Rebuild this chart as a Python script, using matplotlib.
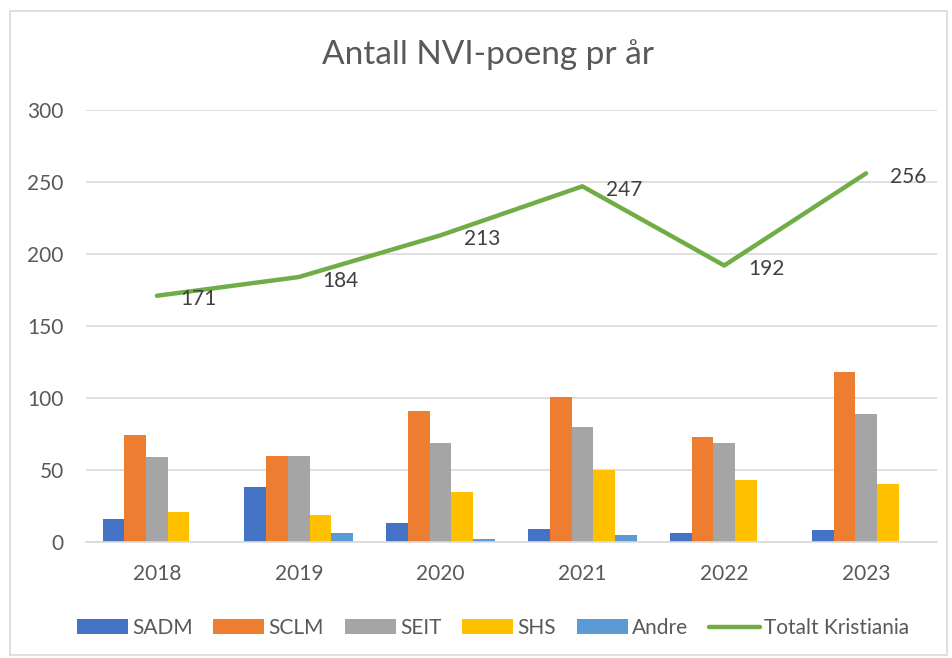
import matplotlib
matplotlib.use("Agg")
import matplotlib.pyplot as plt
import numpy as np
from matplotlib.patches import Rectangle, Patch
from matplotlib.lines import Line2D

years = ["2018", "2019", "2020", "2021", "2022", "2023"]
sadm = [16, 38, 13, 9, 6, 8]
sclm = [74, 60, 91, 101, 73, 118]
seit = [59, 60, 69, 80, 69, 89]
shs = [21, 19, 35, 50, 43, 40]
andre = [0, 6, 2, 5, 0, 0]
totalt = [171, 184, 213, 247, 192, 256]

series_names = ["SADM", "SCLM", "SEIT", "SHS", "Andre"]
series_vals = [sadm, sclm, seit, shs, andre]
colors = ["#4472C4", "#ED7D31", "#A5A5A5", "#FFC000", "#5B9BD5"]
line_color = "#70AD47"
text_color = "#595959"
grid_color = "#D9D9D9"

plt.rcParams['font.family'] = ['Lato', 'DejaVu Sans']

fig = plt.figure(figsize=(9.52, 6.58), dpi=100)
W, H = 952, 658
ax = fig.add_axes([86 / W, 1 - 542 / H, (937 - 86) / W, (542 - 110) / H])

x = np.arange(len(years))
bw = 0.153
for i, (name, vals, c) in enumerate(zip(series_names, series_vals, colors)):
    ax.bar(x + (i - 2) * bw, vals, width=bw, color=c, label=name, zorder=2, linewidth=0)

ax.plot(x, totalt, color=line_color, linewidth=3.2, solid_capstyle='round',
        solid_joinstyle='round', zorder=3, label="Totalt Kristiania")
for xi, v in zip(x, totalt):
    ax.annotate(str(v), (xi, v), xytext=(17, -2.5), textcoords='offset points',
                ha='left', va='center', fontsize=15, color='#404040', zorder=4)

ax.set_xlim(-0.5, len(years) - 0.5)
ax.set_ylim(0, 300)
ax.set_yticks(range(0, 301, 50))
ax.set_xticks(x)
ax.set_xticklabels(years)
ax.grid(axis='y', color=grid_color, linewidth=1.2, zorder=0)
ax.set_axisbelow(True)
for s in ['top', 'right', 'left']:
    ax.spines[s].set_visible(False)
ax.spines['bottom'].set_color(grid_color)
ax.spines['bottom'].set_linewidth(1.2)
ax.tick_params(axis='both', length=0, labelsize=15, colors=text_color, labelcolor=text_color)
ax.tick_params(axis='y', pad=16)
ax.tick_params(axis='x', pad=16)

fig.text(488 / W, 1 - 55 / H, "Antall NVI-poeng pr år", ha='center', va='center',
         fontsize=24, color=text_color)

handles = [Patch(facecolor=c, edgecolor='none') for c in colors]
handles.append(Line2D([0], [0], color=line_color, linewidth=3.2, solid_capstyle='round'))
labels = series_names + ["Totalt Kristiania"]
fig.legend(handles, labels, loc='center', bbox_to_anchor=(493 / W, 1 - 628 / H), ncol=6,
           frameon=False, fontsize=15, labelcolor=text_color, handlelength=2.45,
           handleheight=0.72, columnspacing=1.0, handletextpad=0.2)

fig.add_artist(Rectangle((10 / W, 3 / H), (947 - 10) / W, (647 - 3) / H,
                         transform=fig.transFigure, fill=False, edgecolor=grid_color,
                         linewidth=1.2))

fig.savefig("out.png", dpi=100)
